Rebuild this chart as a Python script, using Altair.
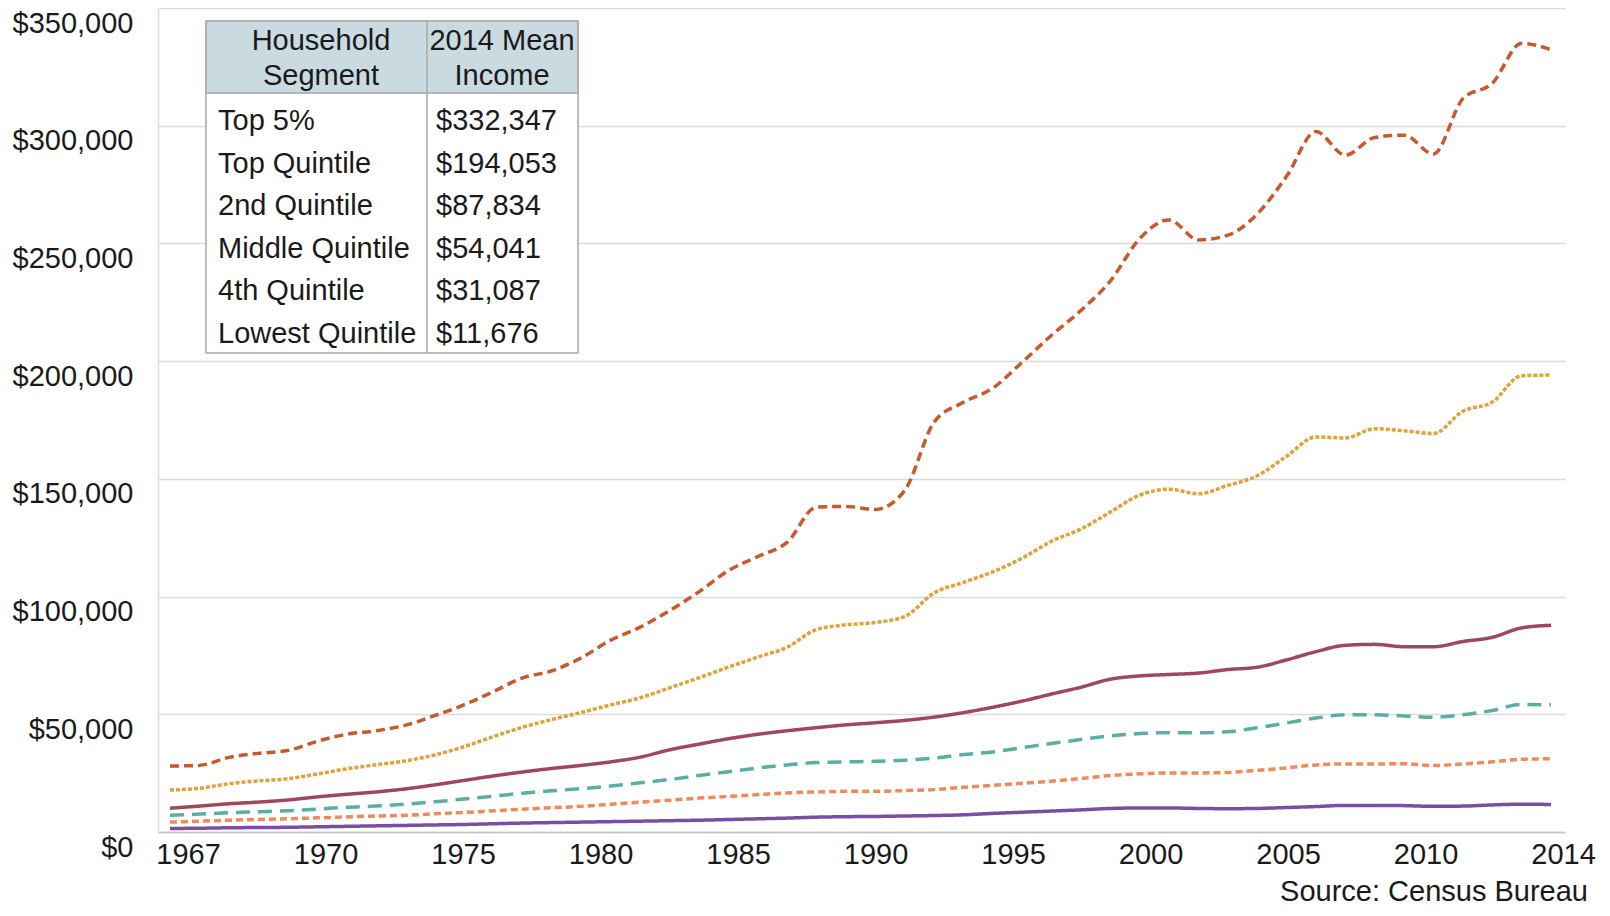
import altair as alt
import pandas as pd

# ---------------- data (mean household income, thousands of current dollars) ----------------
years = list(range(1967, 2015))
series_names = ["Top 5%", "Top Quintile", "2nd Quintile", "Middle Quintile",
                "4th Quintile", "Lowest Quintile"]

top5 = [28.0, 28.3, 31.7, 33.4, 34.6, 38.5, 41.5, 43.0, 45.3, 49.4,
        54.0, 59.6, 65.5, 68.5, 74.0, 81.5, 87.0, 94.0, 102.0, 111.0,
        117.0, 123.0, 138.0, 138.3, 137.0, 145.0, 174.0, 182.5, 188.5, 199.5,
        211.0, 221.5, 234.0, 252.0, 260.0, 251.5, 253.5, 262.5, 278.5, 297.5,
        287.5, 295.0, 296.0, 288.0, 311.5, 318.0, 335.0, 332.3]
top_quintile = [17.8, 18.6, 20.5, 21.7, 22.6, 24.6, 26.8, 28.5, 30.2, 32.7,
                36.2, 40.5, 44.5, 47.8, 50.8, 54.0, 57.0, 61.2, 65.5, 70.0,
                74.3, 78.5, 86.0, 88.0, 89.0, 91.5, 101.5, 106.0, 110.5, 116.3,
                123.5, 128.7, 135.9, 143.1, 145.6, 143.7, 147.2, 151.3, 159.6, 167.8,
                167.4, 171.3, 170.4, 169.3, 178.7, 182.6, 193.8, 194.1]
second_quintile = [10.1, 11.0, 12.0, 12.7, 13.6, 14.9, 16.0, 17.0, 18.3, 20.0,
                   21.9, 23.8, 25.5, 27.0, 28.3, 29.8, 31.8, 34.9, 37.3, 39.6,
                   41.5, 43.0, 44.3, 45.5, 46.4, 47.4, 48.8, 50.7, 53.0, 55.6,
                   58.6, 61.5, 64.9, 66.3, 66.9, 67.5, 69.0, 70.0, 73.1, 76.6,
                   79.3, 79.7, 78.7, 78.7, 80.9, 82.7, 86.7, 87.8]
middle_quintile = [7.1, 7.6, 8.2, 8.6, 9.0, 9.7, 10.5, 11.0, 11.8, 12.8,
                   14.0, 15.2, 16.5, 17.5, 18.4, 19.5, 20.9, 22.3, 24.0, 25.6,
                   27.2, 28.5, 29.5, 29.8, 30.0, 30.5, 31.4, 32.9, 34.0, 35.8,
                   37.6, 39.3, 40.8, 41.8, 42.2, 42.2, 42.6, 44.3, 46.3, 48.4,
                   49.8, 49.8, 49.3, 48.7, 49.8, 51.6, 54.2, 54.0]
fourth_quintile = [4.2, 4.6, 5.0, 5.3, 5.6, 6.0, 6.4, 6.8, 7.1, 7.7,
                   8.3, 9.0, 9.7, 10.3, 10.9, 11.8, 12.7, 13.5, 14.4, 15.1,
                   15.9, 16.6, 17.0, 17.3, 17.3, 17.6, 18.0, 19.0, 19.8, 20.7,
                   21.6, 22.7, 24.0, 24.7, 25.1, 25.1, 25.3, 26.2, 27.2, 28.5,
                   28.9, 28.9, 29.0, 28.2, 28.9, 29.8, 30.9, 31.1]
lowest_quintile = [1.5, 1.6, 1.8, 1.9, 2.0, 2.2, 2.4, 2.6, 2.8, 3.0,
                   3.2, 3.5, 3.8, 4.0, 4.2, 4.4, 4.6, 4.8, 5.0, 5.3,
                   5.6, 5.9, 6.3, 6.5, 6.6, 6.8, 7.0, 7.3, 7.9, 8.4,
                   8.9, 9.4, 10.0, 10.2, 10.2, 10.0, 9.9, 10.0, 10.4, 10.8,
                   11.3, 11.3, 11.2, 10.9, 11.0, 11.5, 11.8, 11.7]

table_income = ["$332,347", "$194,053", "$87,834", "$54,041", "$31,087", "$11,676"]
x_tick_labels = ["1967", "1970", "1975", "1980", "1985", "1990",
                 "1995", "2000", "2005", "2010", "2014"]
y_tick_values = [0, 50000, 100000, 150000, 200000, 250000, 300000, 350000]

# ---------------- styles ----------------
FONT = "Liberation Sans"
TXT = "#1a1a1a"
FS = 29
colors = ["#c65a2c", "#dda23a", "#9f475c", "#5aaea4", "#ef8a5a", "#7a4fa3"]
dashes = [[9, 5], [4, 2], [1, 0], [14, 8], [7, 4], [1, 0]]

rows = []
for name, vals in zip(series_names, [top5, top_quintile, second_quintile,
                                      middle_quintile, fourth_quintile, lowest_quintile]):
    for yr, v in zip(years, vals):
        rows.append({"year": yr, "series": name, "income": v * 1000})
df = pd.DataFrame(rows)

# ---------------- layout ----------------
W, H = 1407, 824
x_domain = [1966.592, 2014.476]
first_tick, tick_step = 1967.613, 4.6795
tick_vals = [first_tick + i * tick_step for i in range(len(x_tick_labels))]
label_arr = "[" + ",".join("'%s'" % s for s in x_tick_labels) + "]"
label_expr = "%s[round((datum.value - %f) / %f)]" % (label_arr, first_tick, tick_step)

lines = alt.Chart(df).mark_line(strokeWidth=3.5, interpolate="monotone").encode(
    x=alt.X("year:Q",
            scale=alt.Scale(domain=x_domain, nice=False, zero=False),
            axis=alt.Axis(values=tick_vals, labelExpr=label_expr, title=None,
                          grid=False, ticks=False, domain=True,
                          domainColor="#c4c4c4", domainWidth=1.5,
                          labelFont=FONT, labelFontSize=FS, labelColor=TXT,
                          labelPadding=8, labelFlush=False, labelOverlap=False)),
    y=alt.Y("income:Q",
            scale=alt.Scale(domain=[0, 350000], nice=False),
            axis=alt.Axis(values=y_tick_values, format="$,.0f", title=None,
                          ticks=False, grid=True, gridColor="#dadada", gridWidth=1.5,
                          domain=True, domainColor="#dadada", domainWidth=1.5,
                          labelFont=FONT, labelFontSize=FS, labelColor=TXT,
                          labelPadding=25, labelOffset=15, labelOverlap=False)),
    color=alt.Color("series:N", scale=alt.Scale(domain=series_names, range=colors), legend=None),
    strokeDash=alt.StrokeDash("series:N", scale=alt.Scale(domain=series_names, range=dashes),
                              legend=None),
)

one = alt.Data(values=[{"k": 0}])
BORDER = "#a8a8a8"

table_box = alt.Chart(one).mark_rect(fill="white", stroke=BORDER, strokeWidth=1.5).encode(
    x=alt.value(48), x2=alt.value(420), y=alt.value(13), y2=alt.value(345))
table_head = alt.Chart(one).mark_rect(fill="#c9dbe0", stroke=BORDER, strokeWidth=1.5).encode(
    x=alt.value(48), x2=alt.value(420), y=alt.value(13), y2=alt.value(85))
table_div = alt.Chart(one).mark_rule(color=BORDER, strokeWidth=1.5).encode(
    x=alt.value(269), y=alt.value(13), y2=alt.value(345))

head1 = alt.Chart(one).mark_text(font=FONT, fontSize=FS, color=TXT, align="center",
                                 baseline="middle", lineHeight=35).encode(
    x=alt.value(163), y=alt.value(33), text=alt.value(["Household", "Segment"]))
head2 = alt.Chart(one).mark_text(font=FONT, fontSize=FS, color=TXT, align="center",
                                 baseline="middle", lineHeight=35).encode(
    x=alt.value(344), y=alt.value(33), text=alt.value(["2014 Mean", "Income"]))
body1 = alt.Chart(one).mark_text(font=FONT, fontSize=FS, color=TXT, align="left",
                                 baseline="middle", lineHeight=42.6).encode(
    x=alt.value(60), y=alt.value(113), text=alt.value(series_names))
body2 = alt.Chart(one).mark_text(font=FONT, fontSize=FS, color=TXT, align="left",
                                 baseline="middle", lineHeight=42.6).encode(
    x=alt.value(278), y=alt.value(113), text=alt.value(table_income))

source = alt.Chart(one).mark_text(font=FONT, fontSize=FS, color=TXT, align="right",
                                  baseline="middle").encode(
    x=alt.value(1430), y=alt.value(884), text=alt.value("Source: Census Bureau"))

chart = alt.layer(lines, table_box, table_head, table_div, head1, head2, body1, body2, source).properties(
    width=W, height=H,
    autosize=alt.AutoSizeParams(type="none"),
    padding={"left": 150, "top": 0, "right": 37, "bottom": 76},
    background="white",
).configure_view(stroke=None)

chart.save("out.html", embed_options={"renderer": "svg", "actions": False})
